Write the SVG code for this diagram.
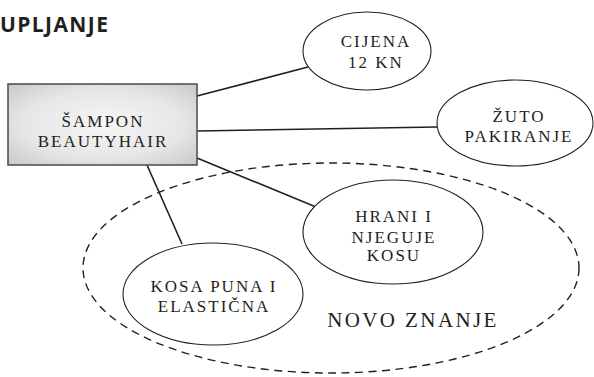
<svg xmlns="http://www.w3.org/2000/svg" width="594" height="377" viewBox="0 0 594 377">
  <defs>
    <radialGradient id="boxFill" cx="50%" cy="50%" r="70%">
      <stop offset="0" stop-color="#f6f6f6"/>
      <stop offset="0.6" stop-color="#e6e6e7"/>
      <stop offset="1" stop-color="#c9c9cb"/>
    </radialGradient>
  </defs>
  <style>
    .lbl { font-size: 17px; letter-spacing: 2px; fill: #231f20; text-anchor: middle; }
    .big { font-size: 21px; letter-spacing: 2.4px; }
    .title { font-weight: bold; font-size: 21px; letter-spacing: 1.4px; fill: #231f20; }
    .bubble { fill: #ffffff; stroke: #231f20; stroke-width: 1.1; }
    .link { stroke: #231f20; stroke-width: 1.6; fill: none; }
    .group { fill: none; stroke: #231f20; stroke-width: 1.4; stroke-dasharray: 8 5.5; }
  </style>

  <rect width="594" height="377" fill="#ffffff"/>

  <text class="title" x="0" y="32" font-family="Open Sans, Noto Sans, sans-serif">UPLJANJE</text>

  <!-- grouping region -->
  <ellipse id="novo-znanje-region" class="group" cx="331" cy="268" rx="248" ry="105"/>

  <!-- connectors -->
  <g id="connectors">
    <line class="link" x1="197" y1="96" x2="308" y2="67"/>
    <line class="link" x1="197" y1="131" x2="437" y2="127"/>
    <line class="link" x1="197" y1="158" x2="316" y2="207"/>
    <line class="link" x1="147" y1="165" x2="182" y2="244"/>
  </g>

  <g id="labels" font-family="Liberation Serif, Times New Roman, serif">
    <g id="sampon">
      <rect x="8" y="84" width="189" height="81" fill="url(#boxFill)" stroke="#4a4a4c" stroke-width="1.5"/>
      <text class="lbl" x="103" y="127">ŠAMPON</text>
      <text class="lbl" x="103" y="147">BEAUTYHAIR</text>
    </g>

    <g id="cijena">
      <ellipse class="bubble" cx="367" cy="51" rx="64" ry="39"/>
      <text class="lbl" x="376" y="47">CIJENA</text>
      <text class="lbl" x="376" y="68">12 KN</text>
    </g>

    <g id="zuto">
      <ellipse class="bubble" cx="515" cy="123" rx="78" ry="43"/>
      <text class="lbl" x="519" y="122">ŽUTO</text>
      <text class="lbl" x="519" y="142">PAKIRANJE</text>
    </g>

    <g id="hrani">
      <ellipse class="bubble" cx="393" cy="232" rx="90" ry="52"/>
      <text class="lbl" x="394" y="222">HRANI I</text>
      <text class="lbl" x="394" y="243">NJEGUJE</text>
      <text class="lbl" x="394" y="261">KOSU</text>
    </g>

    <g id="kosa">
      <ellipse class="bubble" cx="213" cy="294" rx="90" ry="51"/>
      <text class="lbl" x="214" y="292">KOSA PUNA I</text>
      <text class="lbl" x="214" y="312">ELASTIČNA</text>
    </g>

    <g id="novo-znanje">
      <text class="lbl big" x="413" y="327">NOVO ZNANJE</text>
    </g>
  </g>
</svg>
